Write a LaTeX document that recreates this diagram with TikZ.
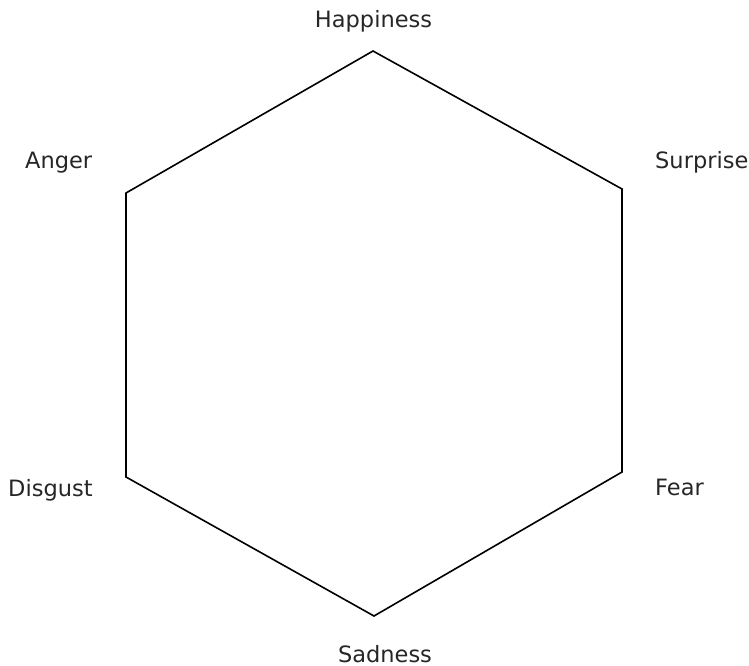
\documentclass[tikz,border=0pt]{standalone}
\usepackage{fontspec}
\setmainfont{DejaVu Sans}

\tikzset{
    emotion/.style={inner sep=0pt, font=\fontsize{22.5}{27}\selectfont, text=black!85},
    wheel/.style={line width=1.6pt, line join=miter}
}

\begin{document}
\begin{tikzpicture}[x=1pt, y=-1pt]
        \useasboundingbox (0, 0) rectangle (749, 666);

        % --- Vertici dell'esagono ---
        \coordinate (vHap) at (373, 51);
        \coordinate (vSur) at (622, 189);
        \coordinate (vFea) at (622, 472);
        \coordinate (vSad) at (374, 616);
        \coordinate (vDis) at (126, 477);
        \coordinate (vAng) at (126, 193);

        % --- Esagono ---
        \draw[wheel] (vHap) -- (vSur) -- (vFea) -- (vSad) -- (vDis) -- (vAng) -- cycle;

        % --- Etichette ---
        \node[emotion, anchor=base] (hap) at (373.5, 28) {Happiness};
        \node[emotion, anchor=base west] (ang) at (25, 168) {Anger};
        \node[emotion, anchor=base west] (sur) at (655, 168) {Surprise};
        \node[emotion, anchor=base west] (dis) at (8, 496) {Disgust};
        \node[emotion, anchor=base west] (fea) at (655, 495) {Fear};
        \node[emotion, anchor=base] (sad) at (385, 662) {Sadness};

    \end{tikzpicture}
\end{document}
